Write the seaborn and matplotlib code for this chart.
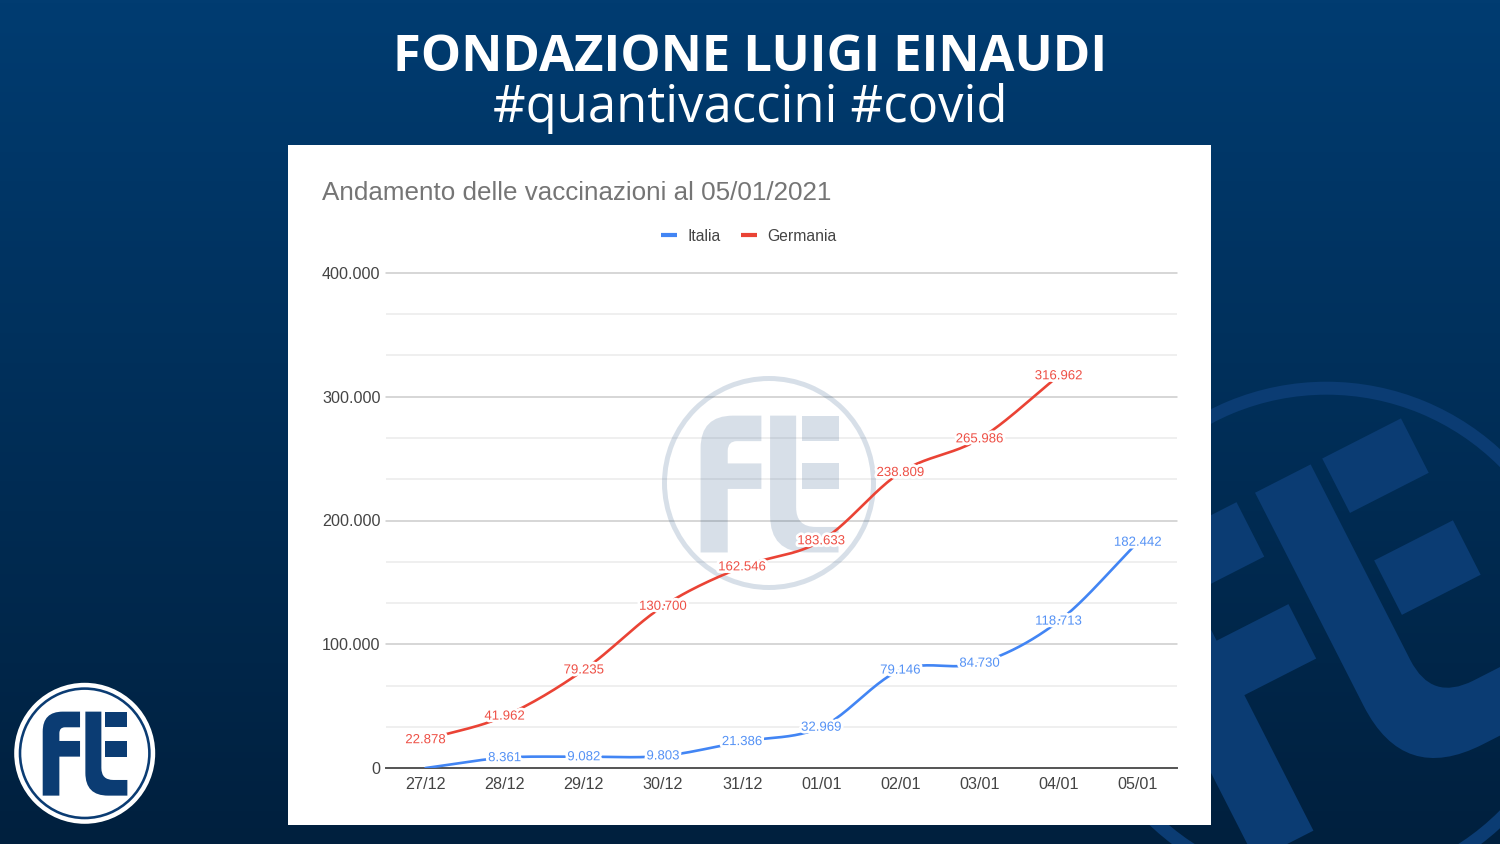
import numpy as np
import pandas as pd
import matplotlib
matplotlib.use("Agg")
import matplotlib.pyplot as plt
import matplotlib.patheffects as pe
from matplotlib.colors import LinearSegmentedColormap
from matplotlib.patches import Circle, PathPatch, Rectangle, Wedge
from matplotlib.path import Path
from matplotlib.ticker import FuncFormatter, MultipleLocator
import seaborn as sns

# ---------- data ----------
dates = ["27/12", "28/12", "29/12", "30/12", "31/12", "01/01", "02/01", "03/01", "04/01", "05/01"]
italia = [0, 8361, 9082, 9803, 21386, 32969, 79146, 84730, 118713, 182442]
germania = [22878, 41962, 79235, 130700, 162546, 183633, 238809, 265986, 316962]
y_ticks = [0, 100000, 200000, 300000, 400000]

chart_title = "Andamento delle vaccinazioni al 05/01/2021"
heading = "FONDAZIONE LUIGI EINAUDI"
subheading = "#quantivaccini #covid"

BLUE = "#4285f4"
RED = "#ea4335"
BLUE_TEXT = "#5592f5"
RED_TEXT = "#ee5046"
W, H = 1500, 844

sns.set_theme(style="white")
plt.rcParams["font.family"] = ["Liberation Sans", "DejaVu Sans"]


def smooth(values, n=24):
    """Curve through the points, like the smoothed line of the source chart."""
    y = np.asarray(values, float)
    x = np.arange(len(y), dtype=float)
    slope = np.gradient(y, x, edge_order=1)
    slope[1:-1] = (y[2:] - y[:-2]) / 2
    xs, ys = [], []
    for i in range(len(y) - 1):
        t = np.linspace(0, 1, n, endpoint=False)
        h00 = 2 * t**3 - 3 * t**2 + 1
        h10 = t**3 - 2 * t**2 + t
        h01 = -2 * t**3 + 3 * t**2
        h11 = t**3 - t**2
        xs.append(x[i] + t)
        ys.append(h00 * y[i] + h10 * slope[i] + h01 * y[i + 1] + h11 * slope[i + 1])
    xs.append([x[-1]])
    ys.append([y[-1]])
    return np.concatenate(xs), np.concatenate(ys)


# ---------- logo (units: 3x crop of the small logo) ----------
M, L, Q, Z = Path.MOVETO, Path.LINETO, Path.CURVE3, Path.CLOSEPOLY
LOGO_PARTS = [
    ([(128, 377), (128, 185), (128, 125), (188, 125), (240, 125), (240, 172), (195, 172), (178, 172),
      (178, 190), (178, 213), (240, 213), (240, 260), (178, 260), (178, 377), (128, 377)],
     [M, L, Q, Q, L, L, L, Q, Q, L, L, L, L, L, Z]),
    ([(256, 125), (304, 125), (304, 294), (304, 330), (340, 330), (382, 330), (382, 377), (324, 377),
      (256, 377), (256, 309), (256, 125)],
     [M, L, L, Q, Q, L, L, L, Q, Q, Z]),
    ([(314, 125), (382, 125), (382, 172), (314, 172), (314, 125)], [M, L, L, L, Z]),
    ([(314, 213), (382, 213), (382, 260), (314, 260), (314, 213)], [M, L, L, L, Z]),
]


def draw_letters(ax, cx, cy, scale, angle, zorder, **style):
    a = np.deg2rad(angle)
    for verts, codes in LOGO_PARTS:
        v = (np.array(verts, float) - [254, 250]) * scale
        xr = v[:, 0] * np.cos(a) + v[:, 1] * np.sin(a) + cx
        yr = -v[:, 0] * np.sin(a) + v[:, 1] * np.cos(a) + cy
        ax.add_patch(PathPatch(Path(np.c_[xr, yr], codes), ec="none", zorder=zorder, **style))


fig = plt.figure(figsize=(W / 100, H / 100), dpi=100)

# ---------- background layer in pixel coordinates ----------
bg = fig.add_axes([0, 0, 1, 1], zorder=0)
bg.set_xlim(0, W)
bg.set_ylim(H, 0)
bg.axis("off")
cmap = LinearSegmentedColormap.from_list("bg", ["#013c71", "#00203e"])
bg.imshow(np.linspace(0, 1, 256)[:, None], extent=[0, W, H, 0], aspect="auto", cmap=cmap, zorder=0)

LOGO_BLUE = "#0b3c73"
big = (1326.5, 638.7)
bg.add_patch(Wedge(big, 257, 0, 360, width=13, fc=LOGO_BLUE, ec="none", zorder=1))
draw_letters(bg, big[0], big[1], 1.3, 27, 1, fc=LOGO_BLUE)

bg.add_patch(Rectangle((288, 145), 923, 680, fc="white", ec="none", zorder=2))

# small logo
small = (84.7, 753.3)
bg.add_patch(Circle(small, 70.5, fc="white", ec="none", zorder=3))
bg.add_patch(Wedge(small, 66, 0, 360, width=2.6, fc=LOGO_BLUE, ec="none", zorder=4))
draw_letters(bg, small[0], small[1], 1 / 3, 0, 4, fc=LOGO_BLUE)

bg.text(750, 52, heading, color="white", family="Open Sans", weight="bold", fontsize=36.5,
        ha="center", va="center_baseline", zorder=5)
bg.text(750, 102.5, subheading, color="white", family="Open Sans", fontsize=36.5,
        ha="center", va="center_baseline", zorder=5)
bg.text(322, 191, chart_title, color="#757575", fontsize=18.75, ha="left", va="center_baseline", zorder=5)

# ---------- chart ----------
left, right, top, bottom = 386, 1177.5, 273, 768
ax = fig.add_axes([left / W, 1 - bottom / H, (right - left) / W, (bottom - top) / H], zorder=1)
ax.patch.set_alpha(0)

for name, values, color, text_color in [("Italia", italia, BLUE, BLUE_TEXT),
                                        ("Germania", germania, RED, RED_TEXT)]:
    xs, ys = smooth(values)
    frame = pd.DataFrame({"x": xs, "y": ys})
    sns.lineplot(data=frame, x="x", y="y", color=color, lw=1.9, label=name, ax=ax,
                 estimator=None, sort=False, zorder=3)
    for i, v in enumerate(values):
        if v > 0:
            ax.annotate(f"{v:,}".replace(",", "."), (i, v), xytext=(0, 0.7), textcoords="offset points",
                        color=text_color, fontsize=9.5, ha="center", va="center_baseline", zorder=4,
                        path_effects=[pe.withStroke(linewidth=4, foreground="white")])

ax.set_xlim(-0.5, len(dates) - 0.5)
ax.set_ylim(y_ticks[0], y_ticks[-1])
ax.set_xlabel("")
ax.set_ylabel("")
ax.set_xticks(range(len(dates)))
ax.set_xticklabels(dates)
ax.set_yticks(y_ticks)
ax.yaxis.set_major_formatter(FuncFormatter(lambda v, _: f"{int(v):,}".replace(",", ".")))
ax.yaxis.set_minor_locator(MultipleLocator(y_ticks[1] / 3))
ax.tick_params(axis="both", which="both", length=0, labelsize=11.6, labelcolor="#444444")
ax.tick_params(axis="y", pad=3.9)
ax.tick_params(axis="x", pad=6.8)
ax.set_axisbelow(True)
ax.grid(axis="y", which="major", color="#cccccc", lw=1.1, clip_on=False)
ax.grid(axis="y", which="minor", color="#ebebeb", lw=1.1)
for s in ["top", "left", "right"]:
    ax.spines[s].set_visible(False)
ax.spines["bottom"].set_color("#555555")
ax.spines["bottom"].set_linewidth(1.4)

# watermark: translucent, over the grid and under the lines
MARK = {"fc": "#0b3c73", "alpha": 0.16, "clip_on": False, "transform": bg.transData}
ax.add_patch(Wedge((769, 483), 107, 0, 360, width=5, ec="none", zorder=2, **MARK))
draw_letters(ax, 769, 483.5, 0.543, 0, 2, **MARK)

leg = ax.legend(loc="lower center", bbox_to_anchor=(0.4586, 1.059), ncol=2, frameon=False,
                fontsize=11.3, handlelength=1.0, handletextpad=0.64, columnspacing=1.34,
                borderaxespad=0, borderpad=0, labelcolor="#444444")
for h in leg.get_lines():
    h.set_linewidth(3)
    h.set_solid_capstyle("butt")

fig.savefig("out.png", dpi=100)
